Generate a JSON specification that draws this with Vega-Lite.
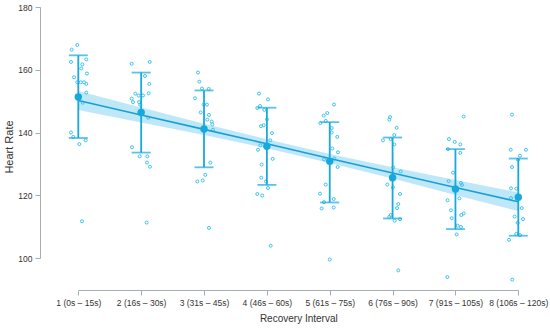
{
  "$schema": "https://vega.github.io/schema/vega-lite/v6.json",
  "width": 510,
  "height": 283,
  "autosize": {"type": "none"},
  "padding": {"left": 40, "top": 7, "right": 0, "bottom": 38},
  "background": "white",
  "config": {
    "view": {"stroke": null},
    "font": "Liberation Sans",
    "axis": {"domainColor": "#a7adb5", "tickColor": "#a7adb5", "labelColor": "#333333", "titleColor": "#333333", "titleFontWeight": "normal", "grid": false, "labelFontSize": 8.5, "titleFontSize": 11, "tickSize": 5}
  },
  "datasets": {
    "pts": [
      {"x": 0.895, "hr": 166.4}, {"x": 0.984, "hr": 167.9}, {"x": 0.884, "hr": 162.5}, {"x": 1.127, "hr": 163.3}, {"x": 1.064, "hr": 161.7}, {"x": 1.048, "hr": 160.4}, {"x": 1.138, "hr": 158.8}, {"x": 0.932, "hr": 157.6}, {"x": 0.984, "hr": 156.0}, {"x": 1.038, "hr": 156.0}, {"x": 1.091, "hr": 156.0}, {"x": 1.127, "hr": 155.5}, {"x": 1.127, "hr": 152.7}, {"x": 1.07, "hr": 149.5}, {"x": 0.884, "hr": 140.0}, {"x": 0.92, "hr": 138.6}, {"x": 1.118, "hr": 137.5}, {"x": 1.016, "hr": 136.3}, {"x": 1.059, "hr": 111.7},
      {"x": 1.849, "hr": 161.9}, {"x": 2.136, "hr": 162.5}, {"x": 2.061, "hr": 158.0}, {"x": 2.13, "hr": 155.5}, {"x": 2.12, "hr": 152.5}, {"x": 1.907, "hr": 152.4}, {"x": 1.96, "hr": 151.8}, {"x": 2.03, "hr": 151.8}, {"x": 1.849, "hr": 150.8}, {"x": 1.87, "hr": 149.7}, {"x": 1.966, "hr": 149.7}, {"x": 1.987, "hr": 148.8}, {"x": 2.114, "hr": 144.7}, {"x": 1.854, "hr": 135.3}, {"x": 1.977, "hr": 132.4}, {"x": 2.098, "hr": 132.4}, {"x": 2.093, "hr": 130.4}, {"x": 2.14, "hr": 129.1}, {"x": 2.088, "hr": 111.3},
      {"x": 2.904, "hr": 159.1}, {"x": 2.925, "hr": 156.2}, {"x": 2.968, "hr": 154.0}, {"x": 3.074, "hr": 153.9}, {"x": 2.857, "hr": 150.9}, {"x": 2.995, "hr": 148.9}, {"x": 3.047, "hr": 148.9}, {"x": 2.947, "hr": 146.4}, {"x": 3.079, "hr": 145.6}, {"x": 3.052, "hr": 144.1}, {"x": 3.122, "hr": 143.5}, {"x": 3.132, "hr": 142.6}, {"x": 3.143, "hr": 140.9}, {"x": 3.1, "hr": 130.4}, {"x": 3.02, "hr": 126.5}, {"x": 2.979, "hr": 124.7}, {"x": 2.893, "hr": 124.4}, {"x": 3.079, "hr": 109.6},
      {"x": 3.875, "hr": 152.4}, {"x": 4.018, "hr": 150.55}, {"x": 3.891, "hr": 148.45}, {"x": 3.848, "hr": 147.8}, {"x": 3.96, "hr": 147.2}, {"x": 4.002, "hr": 144.2}, {"x": 3.949, "hr": 142.3}, {"x": 3.906, "hr": 142.0}, {"x": 4.081, "hr": 139.8}, {"x": 4.054, "hr": 137.5}, {"x": 3.896, "hr": 135.9}, {"x": 3.859, "hr": 134.5}, {"x": 4.092, "hr": 131.6}, {"x": 3.917, "hr": 129.8}, {"x": 3.911, "hr": 125.6}, {"x": 3.986, "hr": 124.4}, {"x": 4.018, "hr": 122.3}, {"x": 3.848, "hr": 120.4}, {"x": 3.927, "hr": 119.9}, {"x": 4.06, "hr": 103.9},
      {"x": 5.068, "hr": 148.9}, {"x": 4.962, "hr": 146.2}, {"x": 4.904, "hr": 145.4}, {"x": 4.936, "hr": 143.7}, {"x": 4.85, "hr": 143.0}, {"x": 5.031, "hr": 141.4}, {"x": 5.031, "hr": 140.0}, {"x": 5.12, "hr": 138.6}, {"x": 5.041, "hr": 134.9}, {"x": 5.131, "hr": 133.7}, {"x": 5.073, "hr": 131.7}, {"x": 4.909, "hr": 131.4}, {"x": 5.126, "hr": 129.0}, {"x": 4.936, "hr": 123.4}, {"x": 4.845, "hr": 120.5}, {"x": 4.909, "hr": 117.8}, {"x": 5.063, "hr": 118.8}, {"x": 4.872, "hr": 115.8}, {"x": 5.063, "hr": 116.1}, {"x": 5.0, "hr": 99.5},
      {"x": 5.959, "hr": 144.9}, {"x": 5.948, "hr": 144.1}, {"x": 6.065, "hr": 141.5}, {"x": 6.027, "hr": 139.2}, {"x": 5.847, "hr": 137.5}, {"x": 5.97, "hr": 137.9}, {"x": 6.027, "hr": 136.2}, {"x": 6.011, "hr": 128.9}, {"x": 6.129, "hr": 127.6}, {"x": 5.916, "hr": 123.4}, {"x": 6.006, "hr": 122.5}, {"x": 6.118, "hr": 120.4}, {"x": 6.091, "hr": 117.2}, {"x": 6.07, "hr": 115.9}, {"x": 5.97, "hr": 113.7}, {"x": 5.948, "hr": 113.1}, {"x": 6.118, "hr": 112.4}, {"x": 6.033, "hr": 111.9}, {"x": 6.091, "hr": 96.05},
      {"x": 7.131, "hr": 145.1}, {"x": 6.897, "hr": 137.9}, {"x": 6.988, "hr": 137.0}, {"x": 7.077, "hr": 136.2}, {"x": 6.881, "hr": 134.7}, {"x": 7.077, "hr": 133.5}, {"x": 6.961, "hr": 127.2}, {"x": 6.892, "hr": 124.5}, {"x": 7.088, "hr": 123.9}, {"x": 7.104, "hr": 123.3}, {"x": 6.876, "hr": 118.4}, {"x": 7.061, "hr": 119.0}, {"x": 6.929, "hr": 115.2}, {"x": 6.94, "hr": 112.7}, {"x": 7.093, "hr": 113.7}, {"x": 7.131, "hr": 114.2}, {"x": 7.035, "hr": 110.3}, {"x": 7.088, "hr": 109.9}, {"x": 7.02, "hr": 107.5}, {"x": 6.871, "hr": 93.9},
      {"x": 7.9, "hr": 145.7}, {"x": 7.879, "hr": 134.5}, {"x": 8.122, "hr": 134.5}, {"x": 8.027, "hr": 132.6}, {"x": 7.995, "hr": 131.3}, {"x": 7.9, "hr": 129.0}, {"x": 7.884, "hr": 122.2}, {"x": 7.968, "hr": 122.1}, {"x": 7.884, "hr": 119.1}, {"x": 8.054, "hr": 115.9}, {"x": 7.942, "hr": 113.2}, {"x": 8.075, "hr": 112.4}, {"x": 7.99, "hr": 111.2}, {"x": 7.968, "hr": 107.7}, {"x": 8.027, "hr": 107.3}, {"x": 7.852, "hr": 105.8}, {"x": 7.904, "hr": 93.1}
    ],
    "summary": [
      {"interval": 1, "mean": 151.3, "lower": 138.25, "upper": 164.6},
      {"interval": 2, "mean": 146.4, "lower": 133.6, "upper": 159.1},
      {"interval": 3, "mean": 141.1, "lower": 128.9, "upper": 153.4},
      {"interval": 4, "mean": 135.6, "lower": 123.3, "upper": 147.9},
      {"interval": 5, "mean": 130.8, "lower": 117.7, "upper": 143.3},
      {"interval": 6, "mean": 125.6, "lower": 112.6, "upper": 138.4},
      {"interval": 7, "mean": 122.0, "lower": 109.2, "upper": 134.7},
      {"interval": 8, "mean": 119.4, "lower": 107.1, "upper": 131.7}
    ],
    "fit": [
      {"interval": 1, "fit": 150.2, "lo": 147.2, "hi": 153.2},
      {"interval": 2, "fit": 145.6, "lo": 143.2, "hi": 148.0},
      {"interval": 3, "fit": 141.0, "lo": 139.2, "hi": 142.8},
      {"interval": 4, "fit": 136.4, "lo": 134.95, "hi": 137.85},
      {"interval": 5, "fit": 131.7, "lo": 130.25, "hi": 133.15},
      {"interval": 6, "fit": 127.1, "lo": 125.3, "hi": 128.9},
      {"interval": 7, "fit": 122.5, "lo": 120.1, "hi": 124.9},
      {"interval": 8, "fit": 117.9, "lo": 114.9, "hi": 120.9}
    ]
  },
  "layer": [
    {
      "data": {"name": "fit"},
      "mark": {"type": "area", "color": "#b3e4f7", "opacity": 0.85},
      "encoding": {
        "x": {"field": "interval", "type": "quantitative", "scale": {"domain": [1, 8], "range": [38.3, 478.3], "nice": false, "zero": false},
          "axis": {"title": "Recovery Interval", "titleFontSize": 10, "values": [1, 2, 3, 4, 5, 6, 7, 8], "labelExpr": "['1 (0s – 15s)','2 (16s – 30s)','3 (31s – 45s)','4 (46s – 60s)','5 (61s – 75s)','6 (76s – 90s)','7 (91s – 105s)','8 (106s – 120s)'][datum.value - 1]", "labelOverlap": false, "labelFlush": false, "labelBound": false, "labelPadding": 3, "titlePadding": 7}},
        "y": {"field": "lo", "type": "quantitative", "scale": {"domain": [100, 180], "range": [251, 0], "nice": false, "zero": false},
          "axis": {"title": "Heart Rate", "values": [100, 120, 140, 160, 180], "labelPadding": 3, "titlePadding": 3, "titleY": 139.5, "labelFlush": false}},
        "y2": {"field": "hi"}
      }
    },
    {
      "data": {"name": "pts"},
      "mark": {"type": "point", "shape": "circle", "filled": false, "stroke": "#3cc3f0", "strokeWidth": 1, "size": 9, "opacity": 1},
      "encoding": {
        "x": {"field": "x", "type": "quantitative"},
        "y": {"field": "hr", "type": "quantitative"}
      }
    },
    {
      "data": {"name": "fit"},
      "mark": {"type": "line", "color": "#1a9fd4", "strokeWidth": 1.6},
      "encoding": {
        "x": {"field": "interval", "type": "quantitative"},
        "y": {"field": "fit", "type": "quantitative"}
      }
    },
    {
      "data": {"name": "summary"},
      "mark": {"type": "rule", "color": "#17a8de", "strokeWidth": 1.8},
      "encoding": {
        "x": {"field": "interval", "type": "quantitative"},
        "y": {"field": "lower", "type": "quantitative"},
        "y2": {"field": "upper"}
      }
    },
    {
      "data": {"name": "summary"},
      "mark": {"type": "tick", "orient": "horizontal", "color": "#17a8de", "thickness": 1.8, "size": 19},
      "encoding": {
        "x": {"field": "interval", "type": "quantitative"},
        "y": {"field": "upper", "type": "quantitative"}
      }
    },
    {
      "data": {"name": "summary"},
      "mark": {"type": "tick", "orient": "horizontal", "color": "#17a8de", "thickness": 1.8, "size": 19},
      "encoding": {
        "x": {"field": "interval", "type": "quantitative"},
        "y": {"field": "lower", "type": "quantitative"}
      }
    },
    {
      "data": {"name": "summary"},
      "mark": {"type": "point", "shape": "circle", "filled": true, "color": "#17a8de", "opacity": 1, "size": 55},
      "encoding": {
        "x": {"field": "interval", "type": "quantitative"},
        "y": {"field": "mean", "type": "quantitative"}
      }
    }
  ]
}
